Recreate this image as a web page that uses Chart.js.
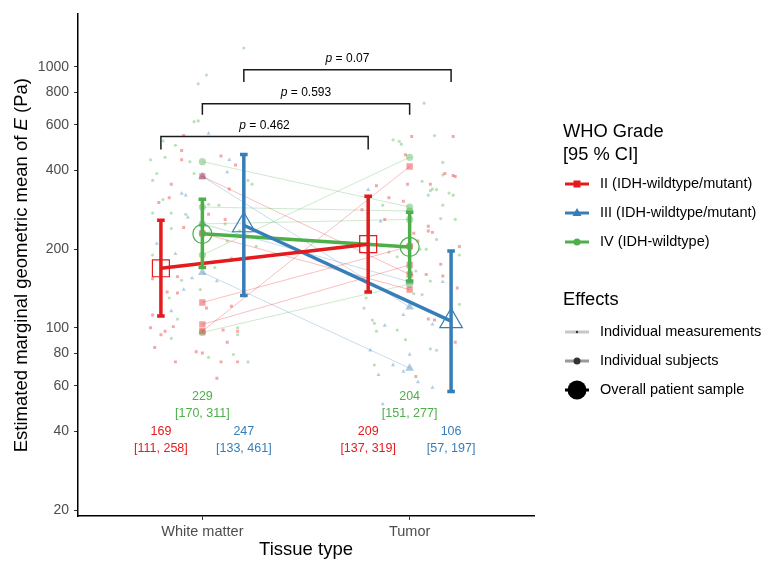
<!DOCTYPE html>
<html>
<head>
<meta charset="utf-8">
<script src="https://cdn.jsdelivr.net/npm/chart.js@4.4.1/dist/chart.umd.min.js"></script>
<style>
html, body { margin: 0; padding: 0; background: #fff; }
#wrap { width: 768px; height: 567px; position: relative; }
</style>
</head>
<body>
<div id="wrap"><canvas id="myChart-emm"></canvas></div>
<script>
// data
const tissues = ['White matter', 'Tumor'];
const grades = ['II (IDH-wildtype/mutant)', 'III (IDH-wildtype/mutant)', 'IV (IDH-wildtype)'];
const yTicks = [20, 40, 60, 80, 100, 200, 400, 600, 800, 1000];

const meanWM = [169, 247, 229];
const lowWM = [111, 133, 170];
const highWM = [258, 461, 311];
const meanTumor = [209, 106, 204];
const lowTumor = [137, 57, 151];
const highTumor = [319, 197, 277];

const pValues = ['0.462', '0.07', '0.593'];
const bracketTop = [540, 973, 721];
const bracketDrop = [482, 875, 655];

// individual subjects (white matter -> tumor)
const subjII_WM = [380, 125, 103, 97, 230];
const subjII_Tu = [160, 205, 174, 415, 140];
const subjIII_WM = [380, 163, 250];
const subjIII_Tu = [120, 70, 150];
const subjIV_WM = [433, 190, 96, 290, 250, 230];
const subjIV_Tu = [290, 450, 147, 280, 260, 205];

// individual measurements [jitter, value]
const measII_WM = [[-0.09,545],[-0.10,478],[-0.10,440],[0.09,455],[0.16,420],[-0.15,355],[0.13,340],[-0.16,315],[-0.21,302],[0.03,272],[-0.09,242],[0.11,260],[-0.24,154],[-0.12,157],[-0.17,137],[-0.12,136],[0.02,119],[0.14,121],[-0.24,112],[-0.14,101],[-0.25,100],[-0.18,97],[-0.20,94],[0.10,98],[0.17,97],[0.12,88],[-0.23,84],[-0.03,81],[0.00,80],[-0.13,74],[0.09,74],[0.17,74],[0.07,64]];
const measIII_WM = [[0.03,555],[0.13,440],[0.12,395],[-0.10,327],[-0.08,322],[-0.07,265],[-0.22,210],[-0.13,192],[-0.05,155],[0.07,151],[-0.09,140],[-0.15,116]];
const measIV_WM = [[0.20,1180],[0.02,930],[-0.02,860],[-0.04,616],[-0.02,620],[-0.19,520],[-0.13,500],[-0.18,450],[-0.06,433],[-0.25,440],[-0.04,390],[-0.22,390],[-0.24,367],[0.22,367],[0.24,355],[0.08,295],[0.03,297],[-0.19,310],[-0.24,275],[-0.15,275],[-0.08,272],[-0.15,240],[0.11,250],[0.18,235],[0.12,215],[0.26,205],[0.14,185],[0.06,170],[-0.24,190],[-0.10,152],[-0.01,140],[-0.16,130],[-0.12,108],[-0.15,91],[0.17,100],[0.17,94],[0.03,77],[0.15,79],[0.22,74]];
const measII_Tu = [[0.01,540],[0.21,540],[-0.02,460],[0.17,390],[0.21,383],[0.22,380],[-0.01,355],[0.10,355],[-0.16,350],[-0.10,315],[-0.03,305],[-0.23,283],[-0.12,260],[0.09,245],[0.09,235],[0.11,232],[0.02,230],[0.24,205],[0.04,215],[0.15,175],[0.08,160],[0.16,158],[0.23,142],[0.12,107],[0.09,108],[0.22,88],[0.03,65]];
const measIII_Tu = [[-0.20,338],[-0.14,256],[0.01,160],[0.16,150],[-0.03,112],[-0.12,102],[0.11,103],[-0.19,82],[0.00,79],[-0.08,72],[-0.03,68],[-0.15,66],[0.04,62],[0.11,59],[-0.13,51]];
const measIV_Tu = [[0.07,725],[0.12,545],[-0.08,525],[-0.05,518],[-0.04,505],[0.16,430],[0.16,385],[0.06,364],[0.11,340],[0.13,338],[0.10,335],[0.09,322],[0.19,328],[0.21,322],[-0.13,295],[0.16,295],[0.15,262],[0.22,260],[0.13,218],[0.08,200],[-0.06,187],[-0.10,195],[0.05,200],[0.03,165],[0.02,135],[0.06,134],[-0.21,130],[0.24,190],[0.10,151],[0.24,123],[-0.22,119],[-0.17,104],[-0.06,98],[-0.02,90],[0.10,83],[0.13,82],[-0.17,72],[-0.18,107],[-0.16,97]];

// styling
const colors = ['#E41A1C', '#377EB8', '#4DAF4A'];
const shapes = ['rect', 'triangle', 'circle'];
const dodge = [-0.2, 0.2, 0];
const FONT = 'Liberation Sans, Arial, sans-serif';

function fade(hex, a) {
    const n = parseInt(hex.slice(1), 16);
    return 'rgba(' + (n >> 16) + ',' + ((n >> 8) & 255) + ',' + (n & 255) + ',' + a + ')';
}

const measWM = [measII_WM, measIII_WM, measIV_WM];
const measTu = [measII_Tu, measIII_Tu, measIV_Tu];
const subjWM = [subjII_WM, subjIII_WM, subjIV_WM];
const subjTu = [subjII_Tu, subjIII_Tu, subjIV_Tu];

const datasets = [];
for (let g = 0; g < 3; g++) {
    // measurements
    datasets.push({
        data: measWM[g].map(p => ({ x: 1 + p[0], y: p[1] }))
            .concat(measTu[g].map(p => ({ x: 2 + p[0], y: p[1] }))),
        pointStyle: shapes[g],
        pointRadius: [2.1, 2.4, 1.6][g],
        backgroundColor: fade(colors[g], 0.38),
        borderWidth: 0,
        order: 50
    });
    // subjects
    for (let i = 0; i < subjWM[g].length; i++) {
        datasets.push({
            data: [{ x: 1, y: subjWM[g][i] }, { x: 2, y: subjTu[g][i] }],
            showLine: true,
            borderColor: fade(colors[g], 0.35),
            borderWidth: 0.8,
            pointStyle: shapes[g],
            pointRadius: [4.5, 5, 3.6][g],
            pointBackgroundColor: fade(colors[g], 0.42),
            pointBorderWidth: 0,
            order: 40
        });
    }
    // overall mean line + hollow markers
    datasets.push({
        data: [{ x: 1 + dodge[g], y: meanWM[g] }, { x: 2 + dodge[g], y: meanTumor[g] }],
        showLine: true,
        borderColor: colors[g],
        borderWidth: 3.5,
        pointStyle: shapes[g],
        pointRadius: [12, 13, 9.5][g],
        pointBackgroundColor: 'rgba(0,0,0,0)',
        pointBorderColor: colors[g],
        pointBorderWidth: 1.2,
        order: 20
    });
    // error bars
    [[1, lowWM, highWM], [2, lowTumor, highTumor]].forEach(([t, lo, hi]) => {
        datasets.push({
            data: [{ x: t + dodge[g], y: lo[g] }, { x: t + dodge[g], y: hi[g] }],
            showLine: true,
            borderColor: colors[g],
            borderWidth: 3.5,
            pointStyle: 'line',
            pointRadius: 3.8,
            pointBorderColor: colors[g],
            pointBorderWidth: 3.5,
            order: 10
        });
    });
    // significance bracket
    datasets.push({
        data: [
            { x: 1 + dodge[g], y: bracketDrop[g] }, { x: 1 + dodge[g], y: bracketTop[g] },
            { x: 2 + dodge[g], y: bracketTop[g] }, { x: 2 + dodge[g], y: bracketDrop[g] }
        ],
        showLine: true,
        borderColor: '#1a1a1a',
        borderWidth: 1.5,
        pointRadius: 0,
        order: 5
    });
}

function mixedText(ctx, parts, cx, cy) {
    let total = 0;
    parts.forEach(p => { ctx.font = p[1]; total += ctx.measureText(p[0]).width; });
    let x = cx - total / 2;
    ctx.textAlign = 'left';
    parts.forEach(p => {
        ctx.font = p[1];
        ctx.fillText(p[0], x, cy);
        x += ctx.measureText(p[0]).width;
    });
}

const annotPlugin = {
    id: 'annot',
    afterDatasetsDraw(chart) {
        const { ctx, scales: { x, y } } = chart;
        ctx.save();
        ctx.textBaseline = 'middle';

        // mean [CI] labels
        const rowVal = [40, 40, 54.5];
        ctx.font = '12.5px ' + FONT;
        ctx.textAlign = 'center';
        for (let g = 0; g < 3; g++) {
            ctx.fillStyle = colors[g];
            [[1, meanWM, lowWM, highWM], [2, meanTumor, lowTumor, highTumor]].forEach(([t, m, lo, hi]) => {
                const px = x.getPixelForValue(t + dodge[g]);
                const py = y.getPixelForValue(rowVal[g]);
                ctx.fillText(String(m[g]), px, py);
                ctx.fillText('[' + lo[g] + ', ' + hi[g] + ']', px, py + 17);
            });
        }

        // p-values
        ctx.fillStyle = '#000';
        for (let g = 0; g < 3; g++) {
            const px = (x.getPixelForValue(1 + dodge[g]) + x.getPixelForValue(2 + dodge[g])) / 2;
            const py = y.getPixelForValue(bracketTop[g]) - 11;
            mixedText(ctx, [['p', 'italic 12px ' + FONT], [' = ' + pValues[g], '12px ' + FONT]], px, py);
        }

        // axis titles
        ctx.fillStyle = '#000';
        ctx.save();
        ctx.translate(22, (chart.chartArea.top + chart.chartArea.bottom) / 2);
        ctx.rotate(-Math.PI / 2);
        mixedText(ctx, [['Estimated marginal geometric mean of ', '18.5px ' + FONT],
            ['E', 'italic 18.5px ' + FONT], [' (Pa)', '18.5px ' + FONT]], 0, 0);
        ctx.restore();
        ctx.font = '18.5px ' + FONT;
        ctx.textAlign = 'center';
        ctx.fillText('Tissue type', (chart.chartArea.left + chart.chartArea.right) / 2, 550);

        // legend
        ctx.textAlign = 'left';
        ctx.font = '18.3px ' + FONT;
        ctx.fillText('WHO Grade', 563, 132);
        ctx.fillText('[95 % CI]', 563, 155);
        const keyL = 565, keyR = 589, keyC = 577, txtX = 600;
        for (let g = 0; g < 3; g++) {
            const ly = 184 + g * 29;
            ctx.strokeStyle = colors[g];
            ctx.lineWidth = 3;
            ctx.beginPath(); ctx.moveTo(keyL, ly); ctx.lineTo(keyR, ly); ctx.stroke();
            ctx.fillStyle = colors[g];
            ctx.beginPath();
            if (g === 0) ctx.rect(keyC - 3.5, ly - 3.5, 7, 7);
            else if (g === 1) { ctx.moveTo(keyC, ly - 5); ctx.lineTo(keyC + 4.5, ly + 3); ctx.lineTo(keyC - 4.5, ly + 3); ctx.closePath(); }
            else ctx.arc(keyC, ly, 3.5, 0, Math.PI * 2);
            ctx.fill();
            ctx.fillStyle = '#000';
            ctx.font = '14.5px ' + FONT;
            ctx.fillText(grades[g], txtX, ly);
        }
        ctx.font = '18.3px ' + FONT;
        ctx.fillText('Effects', 563, 300);
        const effects = [
            ['Individual measurements', 'rgba(0,0,0,0.22)', 1.2],
            ['Individual subjects', 'rgba(0,0,0,0.4)', 3.5],
            ['Overall patient sample', '#000', 9.5]
        ];
        effects.forEach((e, i) => {
            const ly = 332 + i * 29;
            ctx.strokeStyle = e[1];
            ctx.lineWidth = 3;
            ctx.beginPath(); ctx.moveTo(keyL, ly); ctx.lineTo(keyR, ly); ctx.stroke();
            ctx.fillStyle = i === 2 ? '#000' : '#333';
            ctx.beginPath(); ctx.arc(keyC, ly, e[2], 0, Math.PI * 2); ctx.fill();
            ctx.fillStyle = '#000';
            ctx.font = '14.5px ' + FONT;
            ctx.fillText(e[0], txtX, ly);
        });
        ctx.restore();
    }
};

const ctx1 = document.getElementById('myChart-emm').getContext('2d');
const myChart1 = new Chart(ctx1, {
    type: 'scatter',
    data: { datasets: datasets },
    options: {
        responsive: true,
        maintainAspectRatio: false,
        animation: false,
        layout: { padding: { top: 12, right: 234, left: 0, bottom: 0 } },
        plugins: { legend: { display: false }, tooltip: { enabled: false } },
        scales: {
            x: {
                type: 'linear',
                min: 0.4,
                max: 2.6,
                afterBuildTicks: scale => { scale.ticks = [{ value: 1 }, { value: 2 }]; },
                afterFit: scale => { scale.height = 51; },
                ticks: {
                    callback: v => tissues[v - 1],
                    color: '#4D4D4D',
                    font: { size: 14.5, family: FONT },
                    padding: 3,
                    maxRotation: 0
                },
                grid: { drawOnChartArea: false, drawTicks: true, tickLength: 4, color: '#333' },
                border: { display: true, color: '#000', width: 1.5 }
            },
            y: {
                type: 'logarithmic',
                min: 19,
                max: 1590,
                afterBuildTicks: scale => { scale.ticks = yTicks.map(v => ({ value: v })); },
                afterFit: scale => { scale.width = 78; },
                ticks: {
                    callback: v => String(v),
                    color: '#4D4D4D',
                    font: { size: 14, family: FONT },
                    padding: 5,
                    autoSkip: false
                },
                grid: { drawOnChartArea: false, drawTicks: true, tickLength: 4, color: '#333' },
                border: { display: true, color: '#000', width: 1.5 }
            }
        }
    },
    plugins: [annotPlugin]
});
</script>
</body>
</html>
